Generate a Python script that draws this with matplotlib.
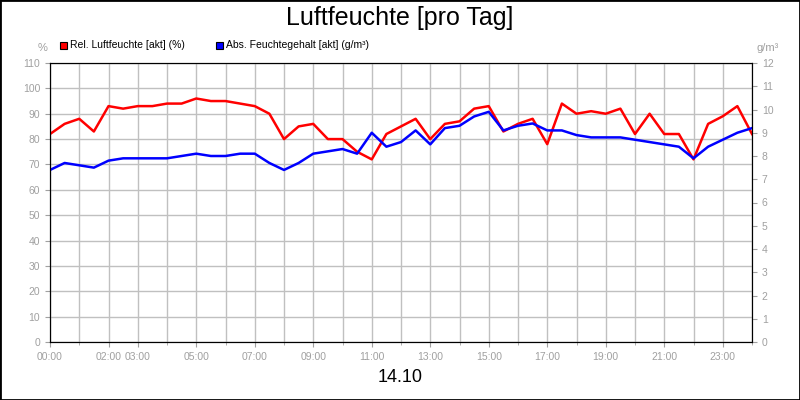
import matplotlib
matplotlib.use('Agg')
import matplotlib.pyplot as plt
from matplotlib.patches import Rectangle

plt.rcParams['font.family'] = 'Liberation Sans'

# hours of day, half-hour steps
hours = [i * 0.5 for i in range(49)]
rel_hum = [82, 86, 88, 83, 93, 92, 93, 93, 94, 94, 96, 95, 95, 94, 93, 90,
           80, 85, 86, 80, 80, 75, 72, 82, 85, 88, 80, 86, 87, 92, 93, 83,
           86, 88, 78, 94, 90, 91, 90, 92, 82, 90, 82, 82, 72, 86, 89, 93, 82]
abs_hum = [7.4, 7.7, 7.6, 7.5, 7.8, 7.9, 7.9, 7.9, 7.9, 8.0, 8.1, 8.0, 8.0, 8.1, 8.1, 7.7,
           7.4, 7.7, 8.1, 8.2, 8.3, 8.1, 9.0, 8.4, 8.6, 9.1, 8.5, 9.2, 9.3, 9.7, 9.9, 9.1,
           9.3, 9.4, 9.1, 9.1, 8.9, 8.8, 8.8, 8.8, 8.7, 8.6, 8.5, 8.4, 7.9, 8.4, 8.7, 9.0, 9.2]
tick_hours = [0, 2, 3, 5, 7, 9, 11, 13, 15, 17, 19, 21, 23]

grey = '#a0a0a0'
fig = plt.figure(figsize=(8, 4), dpi=100)
fig.patches.append(Rectangle((0, 0), 1, 1, transform=fig.transFigure,
                             fill=False, edgecolor='black', linewidth=2))
ax = fig.add_axes([50/800, 1-342/400, 702/800, 279/400])
ax.plot(hours, rel_hum, color='#ff0000', linewidth=1.8)
ax.set_xlim(0, 24)
ax.set_ylim(0, 110)
ax.set_yticks(range(0, 111, 10))
ax.set_xticks(range(0, 25), minor=True)
ax.set_xticks(tick_hours)
ax.set_xticklabels(['%02d:00' % h for h in tick_hours])
ax.grid(True, which='both', axis='x', color='#c0c0c0', linewidth=1)
ax.grid(True, axis='y', color='#c0c0c0', linewidth=1)
ax.tick_params(colors=grey, labelsize=7.5, labelcolor=grey)
ax.tick_params(which='minor', colors=grey)

ax2 = ax.twinx()
ax2.plot(hours, abs_hum, color='#0000ff', linewidth=1.8)
ax2.set_ylim(0, 12)
ax2.set_yticks(range(0, 13))
ax2.tick_params(colors=grey, labelsize=7.5, labelcolor=grey)
for a in (ax, ax2):
    for s in a.spines.values():
        s.set_color('black')

fig.text(0.5, 0.955, 'Luftfeuchte [pro Tag]', ha='center', va='center', fontsize=18)
fig.text(0.5, 0.055, '14.10', ha='center', va='center', fontsize=13)
fig.text(43/800, 1-48/400, '%', color=grey, fontsize=8, ha='center', va='center')
fig.text(768/800, 1-48/400, 'g/m³', color=grey, fontsize=8, ha='center', va='center')
for x0, col, lab in [(60, '#ff0000', 'Rel. Luftfeuchte [akt] (%)'),
                     (216, '#0000ff', 'Abs. Feuchtegehalt [akt] (g/m³)')]:
    fig.patches.append(Rectangle((x0/800, 1-49/400), 7/800, 7/400, transform=fig.transFigure,
                                 facecolor=col, edgecolor='black', linewidth=0.8))
    fig.text((x0 + 10)/800, 1-45/400, lab, fontsize=7.5, va='center')

fig.savefig('out.png')
